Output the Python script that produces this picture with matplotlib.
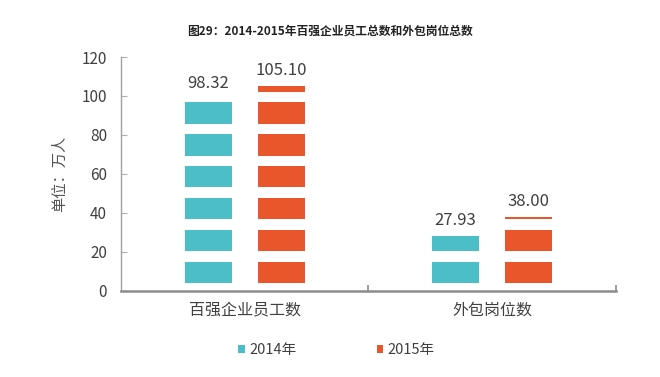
import numpy as np
import matplotlib.pyplot as plt
from matplotlib.patches import Patch

plt.rcParams['font.family'] = ['Noto Sans CJK SC', 'DejaVu Sans']

categories = ['百强企业员工数', '外包岗位数']
years = ['2014年', '2015年']
values_2014 = [98.32, 27.93]
values_2015 = [105.10, 38.00]
labels_2014 = ['98.32', '27.93']
labels_2015 = ['105.10', '38.00']

colors = ['#4BBEC8', '#E9562B']
text_c = '#404040'
axis_c = '#8c8c8c'

# striped "picture" fill: one band per period
period = 16.4
band = (0.23, 0.90)


def striped_bar(ax, x, value, width, color):
    start = 0.0
    while start < value:
        lo = start + band[0] * period
        hi = min(start + band[1] * period, value)
        if hi > lo:
            ax.bar(x, hi - lo, width=width, bottom=lo, color=color, linewidth=0)
        start += period


fig = plt.figure(figsize=(6.6, 3.77), dpi=100)
ax = fig.add_axes([0.1833, 0.2294, 0.75, 0.6194])

x = np.arange(len(categories))
w = 0.19
off = 0.148
for i in range(len(categories)):
    striped_bar(ax, x[i] - off, values_2014[i], w, colors[0])
    striped_bar(ax, x[i] + off, values_2015[i], w, colors[1])
    ax.text(x[i] - off, values_2014[i] + 3.5, labels_2014[i], ha='center', va='bottom',
            fontsize=12, color=text_c)
    ax.text(x[i] + off, values_2015[i] + 3.5, labels_2015[i], ha='center', va='bottom',
            fontsize=12, color=text_c)

ax.set_xlim(-0.5, 1.5)
ax.set_ylim(0, 120)
ax.set_yticks(np.arange(0, 121, 20))
ax.set_xticks([0.5, 1.5], minor=False)
ax.set_xticklabels(['', ''])
ax.set_xticks(x, minor=True)
ax.set_xticklabels(categories, minor=True, fontsize=11.5, color=text_c)
ax.tick_params(axis='x', which='minor', length=0, pad=8)
ax.tick_params(axis='x', which='major', direction='in', length=4, color=axis_c, width=1.2)
ax.tick_params(axis='y', direction='in', length=4, color='#b0b0b0', labelsize=11,
               labelcolor=text_c, pad=10)

for s in ['top', 'right']:
    ax.spines[s].set_visible(False)
ax.spines['left'].set_color('#a0a0a0')
ax.spines['left'].set_linewidth(1.0)
ax.spines['bottom'].set_color(axis_c)
ax.spines['bottom'].set_linewidth(1.8)

ax.set_ylabel('单位：万人', fontsize=11, color='#555555', labelpad=10)

fig.suptitle('图29：2014-2015年百强企业员工总数和外包岗位总数', x=0.5, y=0.935,
             fontsize=8.5, fontweight='bold', color='#222222')

handles = [Patch(facecolor=colors[0], edgecolor='white', hatch='-', linewidth=0),
           Patch(facecolor=colors[1], edgecolor='white', hatch='-', linewidth=0)]
fig.legend(handles, years, loc='center', bbox_to_anchor=(0.51, 0.072), ncol=2,
           frameon=False, fontsize=10.5, handlelength=0.45, handleheight=0.45,
           handletextpad=0.3, columnspacing=5.5, labelcolor=text_c)

fig.savefig('out.png', dpi=100)
